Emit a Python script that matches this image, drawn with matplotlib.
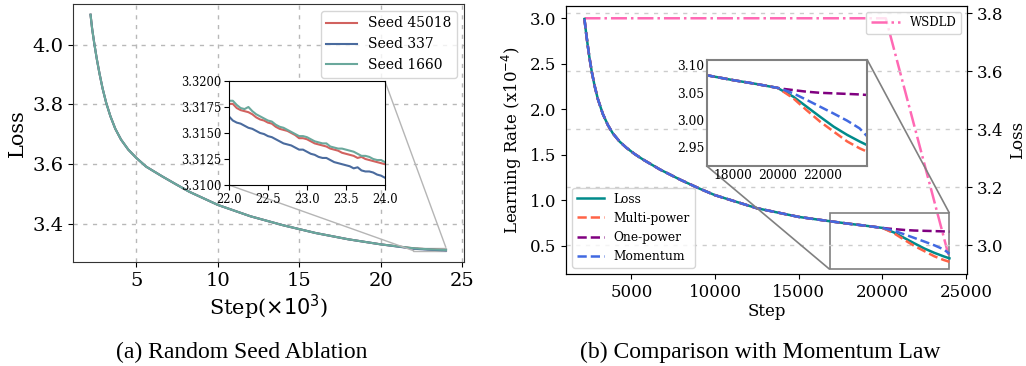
import numpy as np
import matplotlib
matplotlib.use("Agg")
import matplotlib.pyplot as plt
from mpl_toolkits.axes_grid1.inset_locator import mark_inset

plt.rcParams['font.family'] = ['DejaVu Serif']

# ---------------- Panel (a) data: loss vs step (x10^3) ----------------
seed_labels = ["Seed 45018", "Seed 337", "Seed 1660"]
seed_colors = ["#d1625f", "#4a6b9e", "#6aa89c"]

head_steps = [2.18, 2.28, 2.42, 2.57, 2.73, 2.92, 3.14, 3.40, 3.70, 4.05, 4.50,
              5.00, 5.60, 6.60, 7.43, 8.25, 10, 12, 14, 16, 18, 20]
head_loss = [4.100, 4.052, 4.000, 3.950, 3.903, 3.853, 3.805, 3.760, 3.718, 3.682, 3.648,
             3.620, 3.591, 3.558, 3.532, 3.507, 3.463, 3.425, 3.395, 3.369, 3.348, 3.331]

tail_steps = [22.00, 22.05, 22.10, 22.15, 22.20, 22.25, 22.30, 22.35, 22.40, 22.45,
              22.50, 22.55, 22.60, 22.65, 22.70, 22.75, 22.80, 22.85, 22.90, 22.95,
              23.00, 23.05, 23.10, 23.15, 23.20, 23.25, 23.30, 23.35, 23.40, 23.45,
              23.50, 23.55, 23.60, 23.65, 23.70, 23.75, 23.80, 23.85, 23.90, 23.95, 24.00]
tail_45018 = [3.3178, 3.3178, 3.3174, 3.3172, 3.3171, 3.3170, 3.3168, 3.3165, 3.3163, 3.3162,
              3.3160, 3.3159, 3.3156, 3.3154, 3.3153, 3.3152, 3.3150, 3.3148, 3.3145, 3.3145,
              3.3144, 3.3142, 3.3140, 3.3139, 3.3138, 3.3137, 3.3135, 3.3134, 3.3133, 3.3131,
              3.3130, 3.3129, 3.3128, 3.3126, 3.3127, 3.3125, 3.3124, 3.3123, 3.3122, 3.3121, 3.3120]
tail_337 = [3.3166, 3.3162, 3.3160, 3.3159, 3.3157, 3.3155, 3.3154, 3.3152, 3.3150, 3.3149,
            3.3147, 3.3146, 3.3144, 3.3142, 3.3140, 3.3139, 3.3138, 3.3136, 3.3134, 3.3134,
            3.3132, 3.3130, 3.3129, 3.3127, 3.3126, 3.3126, 3.3124, 3.3122, 3.3121, 3.3120,
            3.3119, 3.3118, 3.3116, 3.3117, 3.3114, 3.3113, 3.3113, 3.3112, 3.3110, 3.3109, 3.3107]
tail_1660 = [3.3181, 3.3181, 3.3177, 3.3174, 3.3173, 3.3175, 3.3171, 3.3168, 3.3166, 3.3164,
             3.3162, 3.3161, 3.3158, 3.3156, 3.3155, 3.3153, 3.3151, 3.3149, 3.3147, 3.3147,
             3.3146, 3.3144, 3.3142, 3.3141, 3.3140, 3.3140, 3.3137, 3.3136, 3.3135, 3.3135,
             3.3134, 3.3133, 3.3132, 3.3130, 3.3128, 3.3128, 3.3127, 3.3125, 3.3124, 3.3124, 3.3122]
seed_tails = [tail_45018, tail_337, tail_1660]

# ---------------- Panel (b) data ----------------
lr_steps = [2200, 20200, 24000]
lr_values = [3.0, 3.0, 0.36]

b_head_steps = [2200, 2300, 2400, 2500, 2640, 2800, 3000, 3300, 3600, 3900, 4300,
                4700, 5200, 5700, 6700, 7900, 9100, 10000, 12500, 15000, 16870, 18050, 18940]
b_head_loss = [3.780, 3.731, 3.687, 3.646, 3.597, 3.551, 3.504, 3.452, 3.414, 3.385, 3.357,
               3.336, 3.314, 3.295, 3.261, 3.226, 3.194, 3.172, 3.127, 3.097, 3.082, 3.073, 3.067]

b_tail_steps = [20000, 20300, 20700, 21300, 21900, 22500, 23100, 23650, 24000]
tail_loss = [3.059, 3.052, 3.043, 3.0245, 3.006, 2.988, 2.973, 2.961, 2.954]
tail_multi = [3.059, 3.051, 3.040, 3.018, 2.997, 2.979, 2.961, 2.9485, 2.942]
tail_one = [3.059, 3.057, 3.055, 3.052, 3.050, 3.049, 3.048, 3.047, 3.046]
tail_mom = [3.059, 3.055, 3.049, 3.037, 3.0245, 3.012, 2.999, 2.985, 2.970]

b_labels = ["Loss", "Multi-power", "One-power", "Momentum"]
b_colors = ["#008b8b", "#ff6347", "#800080", "#4169e1"]
b_styles = ["-", "--", "--", "--"]
b_tails = [tail_loss, tail_multi, tail_one, tail_mom]
b_zorders = [2.0, 2.2, 2.1, 2.3]

fig = plt.figure(figsize=(10.26, 3.66), dpi=100)

# ================= Panel (a) =================
axa = fig.add_axes([0.0711, 0.2842, 0.381, 0.705])
for lab, col, tail in zip(seed_labels, seed_colors, seed_tails):
    xs = head_steps + tail_steps
    ys = head_loss + tail
    axa.plot(xs, ys, color=col, lw=1.5, label=lab)
axa.set_xlim(1.1, 25.1)
axa.set_ylim(3.272, 4.136)
axa.set_xticks([5, 10, 15, 20, 25])
axa.set_yticks([3.4, 3.6, 3.8, 4.0])
axa.tick_params(labelsize=14)
axa.grid(True, linestyle=(0, (3, 4)), color="#b8b8b8", lw=1)
for s in axa.spines.values():
    s.set_color("#333333")
axa.set_xlabel(r"Step($\times10^3$)", fontsize=15, labelpad=2)
axa.set_ylabel("Loss", fontsize=15)
axa.legend(loc="upper right", fontsize=10, handlelength=2.2)

ins_a = axa.inset_axes([0.399, 0.2984, 0.399, 0.403])
for lab, col, tail in zip(seed_labels, seed_colors, seed_tails):
    ins_a.plot(tail_steps, tail, color=col, lw=1.5)
ins_a.set_xlim(22.0, 24.0)
ins_a.set_ylim(3.31, 3.32)
ins_a.set_xticks([22.0, 22.5, 23.0, 23.5, 24.0])
ins_a.set_yticks([3.31, 3.3125, 3.315, 3.3175, 3.32])
ins_a.xaxis.set_major_formatter(matplotlib.ticker.FormatStrFormatter('%.1f'))
ins_a.yaxis.set_major_formatter(matplotlib.ticker.FormatStrFormatter('%.4f'))
ins_a.tick_params(labelsize=8.3, pad=2)
mark_inset(axa, ins_a, loc1=1, loc2=3, fc="none", ec="#b5b5b5", lw=1)

# ================= Panel (b) =================
axb = fig.add_axes([0.5517, 0.2514, 0.3908, 0.733])
axb2 = axb.twinx()
lr_line, = axb.plot(lr_steps, lr_values, color="#ff69b4", ls="-.", lw=1.8, label="WSDLD")
axb.set_ylim(0.19, 3.138)
axb.set_yticks([0.5, 1.0, 1.5, 2.0, 2.5, 3.0])
axb.set_xlim(1100, 25050)
axb.set_xticks([5000, 10000, 15000, 20000, 25000])
axb.tick_params(labelsize=12)
axb.set_xlabel("Step", fontsize=12, labelpad=2)
axb.set_ylabel(r"Learning Rate (x10$^{-4}$)", fontsize=12)

loss_lines = []
for lab, col, ls, tail, zo in zip(b_labels, b_colors, b_styles, b_tails, b_zorders):
    xs = b_head_steps + b_tail_steps
    ys = b_head_loss + tail
    ln, = axb2.plot(xs, ys, color=col, ls=ls, lw=1.8, label=lab, zorder=zo)
    loss_lines.append(ln)
axb2.set_ylim(2.90, 3.826)
axb2.set_yticks([3.0, 3.2, 3.4, 3.6, 3.8])
axb2.tick_params(labelsize=12)
axb2.set_ylabel("Loss", fontsize=12)
axb2.grid(True, axis="y", linestyle=(0, (3, 4)), color="#cccccc", lw=1)

leg_lr = axb2.legend(handles=[lr_line], loc="upper right", fontsize=8.5, handlelength=2.5)
axb2.add_artist(leg_lr)
axb2.legend(handles=loss_lines, loc="lower left", fontsize=8.8, handlelength=2.2)

ins_b = axb2.inset_axes([0.351, 0.4025, 0.4005, 0.395])
for lab, col, ls, tail, zo in zip(b_labels, b_colors, b_styles, b_tails, b_zorders):
    xs = b_head_steps + b_tail_steps
    ys = b_head_loss + tail
    ins_b.plot(xs, ys, color=col, ls=ls, lw=1.8, zorder=zo)
ins_b.set_xlim(16850, 24000)
ins_b.set_ylim(2.916, 3.11)
ins_b.set_xticks([18000, 20000, 22000])
ins_b.set_yticks([2.95, 3.00, 3.05, 3.10])
ins_b.yaxis.set_major_formatter(matplotlib.ticker.FormatStrFormatter('%.2f'))
ins_b.tick_params(labelsize=8.8, pad=2, length=0)
for s in ins_b.spines.values():
    s.set_color("#808080")
    s.set_linewidth(1.5)
mark_inset(axb2, ins_b, loc1=1, loc2=3, fc="none", ec="#808080", lw=1.2)

# Captions
cap_fam = ["Liberation Serif", "DejaVu Serif"]
fig.text(0.2354, 0.038, "(a) Random Seed Ablation", ha="center", va="center",
         fontsize=17, family=cap_fam)
fig.text(0.741, 0.038, "(b) Comparison with Momentum Law", ha="center", va="center",
         fontsize=17, family=cap_fam)

fig.savefig("out.png", dpi=100)
